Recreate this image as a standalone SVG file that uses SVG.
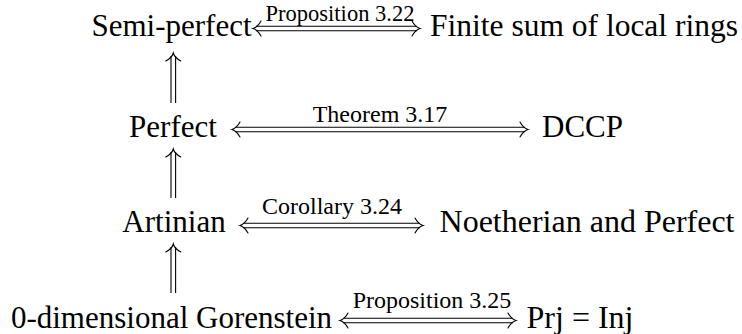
<svg xmlns="http://www.w3.org/2000/svg" xmlns:xlink="http://www.w3.org/1999/xlink" width="742" height="334" viewBox="0 0 742 334">
<style>
.b{stroke:#000;stroke-width:1.1;fill:none}
.h{stroke:#000;stroke-width:1.1;fill:none;stroke-linecap:round}
</style>
<defs>
<path id="hd" class="h" d="M8,-7.5 C5.5,-3 3,-0.8 0,0 C3,0.8 5.5,3 8,7.5"/>
</defs>
<rect width="742" height="334" fill="#fff"/>
<g font-family="Liberation Serif" text-anchor="middle" fill="#000" font-size="31">
<g id="semiperfect"><text x="171.5" y="35.5">Semi-perfect</text></g>
<g id="finitesum"><text x="584" y="35.5" font-size="31.5">Finite sum of local rings</text></g>
<g id="perfect"><text x="173" y="137">Perfect</text></g>
<g id="dccp"><text x="582.5" y="137">DCCP</text></g>
<g id="artinian"><text x="174" y="232">Artinian</text></g>
<g id="noetherian"><text x="587" y="232" font-size="32">Noetherian and Perfect</text></g>
<g id="gorenstein"><text x="171.5" y="328">0-dimensional Gorenstein</text></g>
<g id="prjinj"><text x="580" y="328" font-size="32">Prj = Inj</text></g>
</g>
<g id="connectors" font-family="Liberation Serif" text-anchor="middle" fill="#000" font-size="24">
<line class="b" x1="256" y1="26.2" x2="417" y2="26.2"/>
<line class="b" x1="256" y1="30.8" x2="417" y2="30.8"/>
<use xlink:href="#hd" transform="translate(253,28.5)"/>
<use xlink:href="#hd" transform="translate(420,28.5) rotate(180)"/>
<text x="340" y="20.5" font-size="22.5">Proposition 3.22</text>
<line class="b" x1="235" y1="127.2" x2="525" y2="127.2"/>
<line class="b" x1="235" y1="131.8" x2="525" y2="131.8"/>
<use xlink:href="#hd" transform="translate(232,129.5)"/>
<use xlink:href="#hd" transform="translate(528,129.5) rotate(180)"/>
<text x="380" y="122">Theorem 3.17</text>
<line class="b" x1="243" y1="223.2" x2="420" y2="223.2"/>
<line class="b" x1="243" y1="227.8" x2="420" y2="227.8"/>
<use xlink:href="#hd" transform="translate(240,225.5)"/>
<use xlink:href="#hd" transform="translate(423,225.5) rotate(180)"/>
<text x="332" y="214">Corollary 3.24</text>
<line class="b" x1="343" y1="318.2" x2="513" y2="318.2"/>
<line class="b" x1="343" y1="322.8" x2="513" y2="322.8"/>
<use xlink:href="#hd" transform="translate(340,320.5)"/>
<use xlink:href="#hd" transform="translate(516,320.5) rotate(180)"/>
<text x="432" y="308">Proposition 3.25</text>
<line class="b" x1="171" y1="56" x2="171" y2="103"/>
<line class="b" x1="175.6" y1="56" x2="175.6" y2="103"/>
<use xlink:href="#hd" transform="translate(173.3,53) rotate(90)"/>
<line class="b" x1="171" y1="152" x2="171" y2="198"/>
<line class="b" x1="175.6" y1="152" x2="175.6" y2="198"/>
<use xlink:href="#hd" transform="translate(173.3,149) rotate(90)"/>
<line class="b" x1="171" y1="247" x2="171" y2="293"/>
<line class="b" x1="175.6" y1="247" x2="175.6" y2="293"/>
<use xlink:href="#hd" transform="translate(173.3,244) rotate(90)"/>
</g>
</svg>
